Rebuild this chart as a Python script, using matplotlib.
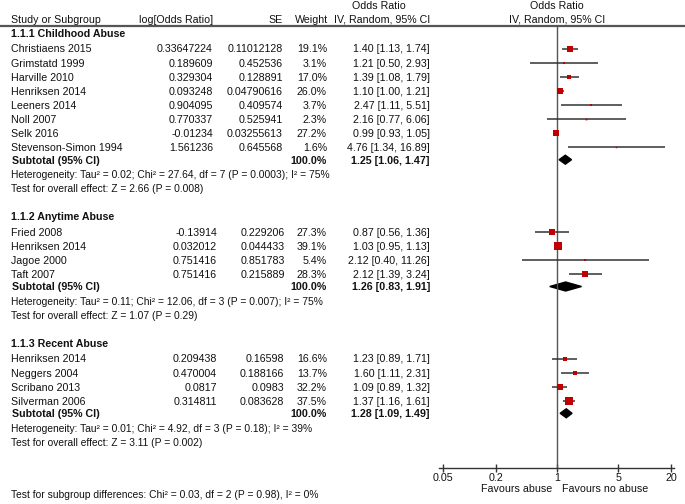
import matplotlib.pyplot as plt
from matplotlib.patches import Polygon
import numpy as np

plt.rcParams['font.family'] = ['Liberation Sans', 'DejaVu Sans']

# ---- data ----
group_titles = ["1.1.1 Childhood Abuse", "1.1.2 Anytime Abuse", "1.1.3 Recent Abuse"]

childhood_names = ["Christiaens 2015", "Grimstatd 1999", "Harville 2010", "Henriksen 2014",
                   "Leeners 2014", "Noll 2007", "Selk 2016", "Stevenson-Simon 1994"]
childhood_log = ["0.33647224", "0.189609", "0.329304", "0.093248", "0.904095", "0.770337",
                 "-0.01234", "1.561236"]
childhood_se = ["0.11012128", "0.452536", "0.128891", "0.04790616", "0.409574", "0.525941",
                "0.03255613", "0.645568"]
childhood_weight = [19.1, 3.1, 17.0, 26.0, 3.7, 2.3, 27.2, 1.6]
childhood_or = [1.40, 1.21, 1.39, 1.10, 2.47, 2.16, 0.99, 4.76]
childhood_lo = [1.13, 0.50, 1.08, 1.00, 1.11, 0.77, 0.93, 1.34]
childhood_hi = [1.74, 2.93, 1.79, 1.21, 5.51, 6.06, 1.05, 16.89]

anytime_names = ["Fried 2008", "Henriksen 2014", "Jagoe 2000", "Taft 2007"]
anytime_log = ["-0.13914", "0.032012", "0.751416", "0.751416"]
anytime_se = ["0.229206", "0.044433", "0.851783", "0.215889"]
anytime_weight = [27.3, 39.1, 5.4, 28.3]
anytime_or = [0.87, 1.03, 2.12, 2.12]
anytime_lo = [0.56, 0.95, 0.40, 1.39]
anytime_hi = [1.36, 1.13, 11.26, 3.24]

recent_names = ["Henriksen 2014", "Neggers 2004", "Scribano 2013", "Silverman 2006"]
recent_log = ["0.209438", "0.470004", "0.0817", "0.314811"]
recent_se = ["0.16598", "0.188166", "0.0983", "0.083628"]
recent_weight = [16.6, 13.7, 32.2, 37.5]
recent_or = [1.23, 1.60, 1.09, 1.37]
recent_lo = [0.89, 1.11, 0.89, 1.16]
recent_hi = [1.71, 2.31, 1.32, 1.61]

subtotal_or = [1.25, 1.26, 1.28]
subtotal_lo = [1.06, 0.83, 1.09]
subtotal_hi = [1.47, 1.91, 1.49]

heterogeneity = [
    "Heterogeneity: Tau\u00b2 = 0.02; Chi\u00b2 = 27.64, df = 7 (P = 0.0003); I\u00b2 = 75%",
    "Heterogeneity: Tau\u00b2 = 0.11; Chi\u00b2 = 12.06, df = 3 (P = 0.007); I\u00b2 = 75%",
    "Heterogeneity: Tau\u00b2 = 0.01; Chi\u00b2 = 4.92, df = 3 (P = 0.18); I\u00b2 = 39%",
]
overall_effect = [
    "Test for overall effect: Z = 2.66 (P = 0.008)",
    "Test for overall effect: Z = 1.07 (P = 0.29)",
    "Test for overall effect: Z = 3.11 (P = 0.002)",
]
subgroup_test = "Test for subgroup differences: Chi\u00b2 = 0.03, df = 2 (P = 0.98), I\u00b2 = 0%"

axis_ticks = [0.05, 0.2, 1, 5, 20]
axis_ticklabels = ["0.05", "0.2", "1", "5", "20"]

groups = [
    (childhood_names, childhood_log, childhood_se, childhood_weight, childhood_or, childhood_lo, childhood_hi),
    (anytime_names, anytime_log, anytime_se, anytime_weight, anytime_or, anytime_lo, anytime_hi),
    (recent_names, recent_log, recent_se, recent_weight, recent_or, recent_lo, recent_hi),
]

# ---- layout (pixel units, y down) ----
W, H = 685, 504
FS = 7.7
FS_STAT = 7.35
TXT = '#111111'
RED = '#c00000'
LINE = '#333333'
DY = 1.0  # text nudge so glyph centres sit on the row
log_right = [213, 217, 217]
se_right = [283, 285, 284]
wt_right = 327
ci_right = 430
axis_y = 467.7
px_per_dec = 87.7


def txt(x, y, s, **kw):
    kw.setdefault('fontsize', FS)
    ax.text(x, y + DY, s, color=TXT, va='center', **kw)


fig = plt.figure(figsize=(W / 100, H / 100), dpi=100)
ax = fig.add_axes([0, 0, 1, 1])
ax.set_xlim(0, W)
ax.set_ylim(H, 0)
ax.axis('off')

fx0, fx1 = 439, 674
fa = fig.add_axes([fx0 / W, 0, (fx1 - fx0) / W, 1])
fa.set_xscale('log')
fa.set_xlim(0.05 / 10 ** ((442.7 - fx0) / px_per_dec), 20 * 10 ** ((fx1 - 671) / px_per_dec))
fa.set_ylim(H, 0)
fa.patch.set_alpha(0)
for s in ['left', 'right', 'top']:
    fa.spines[s].set_visible(False)
fa.spines['bottom'].set_position(('data', axis_y))
fa.spines['bottom'].set_color(LINE)
fa.spines['bottom'].set_linewidth(1.0)
fa.set_yticks([])
fa.set_xticks(axis_ticks)
fa.set_xticklabels(axis_ticklabels)
fa.xaxis.set_minor_locator(plt.NullLocator())
fa.tick_params(axis='x', direction='inout', length=6, width=1.0, color=LINE,
               labelsize=FS, labelcolor=TXT, pad=1)

# headers
txt(11.5, 19, "Study or Subgroup")
txt(213, 19, "log[Odds Ratio]", ha='right')
txt(283, 19, "SE", ha='right')
txt(328, 19, "Weight", ha='right')
txt(379, 5, "Odds Ratio", ha='center')
txt(ci_right, 19, "IV, Random, 95% CI", ha='right')
fa.text(1, 5 + DY, "Odds Ratio", fontsize=FS, color=TXT, va='center', ha='center')
fa.text(1, 19 + DY, "IV, Random, 95% CI", fontsize=FS, color=TXT, va='center', ha='center')
ax.plot([0, W], [26, 26], color='#555555', lw=1.6)

fa.vlines(1, 26, axis_y, color='#555555', lw=1.0)

y = 33
for g, (names, logs, ses, wts, ors, los, his) in enumerate(groups):
    txt(11.5, y, group_titles[g], fontweight='bold')
    y += 15.5
    for i in range(len(names)):
        txt(11.5, y, names[i])
        txt(log_right[g], y, logs[i], ha='right')
        txt(se_right[g], y, ses[i], ha='right')
        txt(wt_right, y, f"{wts[i]:.1f}%", ha='right')
        txt(ci_right, y, f"{ors[i]:.2f} [{los[i]:.2f}, {his[i]:.2f}]", ha='right')
        fa.plot([los[i], his[i]], [y, y], color=LINE, lw=1.1, solid_capstyle='butt')
        fa.plot(ors[i], y, marker='s', ms=0.84 * np.sqrt(wts[i]), color=RED, mec=RED, mew=0)
        y += 14.1
    y += -14.1 + 12.5
    txt(12, y, "Subtotal (95% CI)", fontweight='bold')
    txt(wt_right, y, "100.0%", ha='right', fontweight='bold')
    txt(ci_right, y, f"{subtotal_or[g]:.2f} [{subtotal_lo[g]:.2f}, {subtotal_hi[g]:.2f}]",
        ha='right', fontweight='bold')
    fa.add_patch(Polygon([(subtotal_lo[g], y), (subtotal_or[g], y - 4.5),
                          (subtotal_hi[g], y), (subtotal_or[g], y + 4.5)],
                         closed=True, color='black'))
    y += 14.5
    txt(11.5, y, heterogeneity[g], fontsize=FS_STAT)
    y += 14
    txt(11.5, y, overall_effect[g], fontsize=FS_STAT)
    y += 28

txt(11.5, 494, subgroup_test, fontsize=FS_STAT)
fa.annotate("Favours abuse", xy=(1, 489), xytext=(-3.5, 0), textcoords='offset points',
            fontsize=FS, color=TXT, va='center', ha='right')
fa.annotate("Favours no abuse", xy=(1, 489), xytext=(3.5, 0), textcoords='offset points',
            fontsize=FS, color=TXT, va='center', ha='left')

fig.savefig('out.png', dpi=100)
